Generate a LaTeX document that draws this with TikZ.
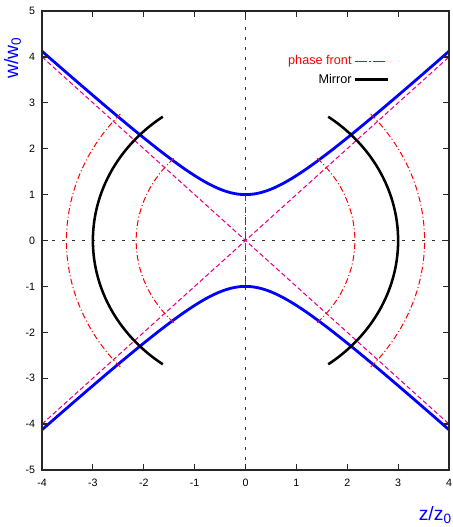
\documentclass[tikz,border=0pt]{standalone}
\usepackage{fontspec}
\setmainfont{Liberation Sans}
\usepackage{tikz}

\begin{document}
\begin{tikzpicture}[x=38.156pt, y=34.425pt, font=\fontsize{8}{9}\selectfont,
  beam/.style={blue, line width=2.1pt},
  asym/.style={magenta, line width=0.8pt, dash pattern=on 3.5pt off 2pt},
  front/.style={red, line width=0.75pt, dash pattern=on 4.5pt off 1.9pt on 0.75pt off 1.9pt},
  frontkey/.style={front, dash pattern=on 9pt off 2pt on 0.9pt off 2pt},
  mirror/.style={black, line width=1.9pt},
  zeroline/.style={black!80, line width=0.75pt, dash pattern=on 2pt off 5.5pt},
  tick/.style={black!85, line width=0.9pt}]
  \useasboundingbox (-4.826,-6.242) rectangle (4.059,5.240);
  \draw[zeroline] (-4,0) -- (4,0); \draw[zeroline] (0,-5) -- (0,5);
  \draw[asym] (-4,-4) -- (4,4); \draw[asym] (-4,4) -- (4,-4);
  \draw[beam] plot[domain=-4:4, samples=81, smooth] (\x,{sqrt(1+\x*\x)});
  \draw[beam] plot[domain=-4:4, samples=81, smooth] (\x,{-sqrt(1+\x*\x)});
  \draw[front] (0,1) -- (0,-1);
  \foreach \s in {1,-1} {
    \draw[front] ({-0.38+2.53*cos(45)},{2.53*sin(45)*\s}) arc[start angle=45*\s, end angle=0, radius=2.53];
    \draw[front] ({0.38-2.53*cos(45)},{2.53*sin(45)*\s}) arc[start angle=180-45*\s, end angle=180, radius=2.53];
    \draw[front] ({-0.6+4.12*cos(42)},{4.12*sin(42)*\s}) arc[start angle=42*\s, end angle=0, radius=4.12];
    \draw[front] ({0.6-4.12*cos(42)},{4.12*sin(42)*\s}) arc[start angle=180-42*\s, end angle=180, radius=4.12];
  }
  \draw[mirror] ({-1/3+10/3*cos(54)},{10/3*sin(54)}) arc[start angle=54, end angle=-54, radius=10/3];
  \draw[mirror] ({1/3-10/3*cos(54)},{10/3*sin(54)}) arc[start angle=126, end angle=234, radius=10/3];
  \draw[black!85, line width=1.3pt] (-4,-5) rectangle (4,5);
  \foreach \x in {-4,...,4} {
    \draw[tick] (\x,-5) -- ++(0,4.5pt); \draw[tick] (\x,5) -- ++(0,-4.5pt);
    \node[below, inner sep=0, yshift=-6.5pt] (xt\x) at (\x,-5) {\x};
  }
  \foreach \y in {-5,...,5} {
    \draw[tick] (-4,\y) -- ++(4.5pt,0); \draw[tick] (4,\y) -- ++(-4.5pt,0);
    \node[left, inner sep=0, xshift=-5pt] (yt\y) at (-4,\y) {\y};
  }
  \node[red, anchor=east, inner sep=0, font=\fontsize{9.5}{11}\selectfont] (lfront) at (2.09,3.91) {phase front};
  \node[anchor=east, inner sep=0, font=\fontsize{9.5}{11}\selectfont] (lmirror) at (2.09,3.51) {Mirror};
  \coordinate (lfrontend) at (2.80,3.91); \coordinate (lmirrorend) at (2.80,3.51);
  \draw[frontkey] ([xshift=2.2pt]lfront.east) -- (lfrontend);
  \draw[mirror] ([xshift=2.2pt]lmirror.east) -- (lmirrorend);
  \node[blue, rotate=90, font=\fontsize{14.5}{16}\selectfont] (ylab) at (-4.58,3.98) {w/w\textsubscript{0}};
  \node[blue, font=\fontsize{14.5}{16}\selectfont] (xlab) at (3.73,-5.98) {z/z\textsubscript{0}};
\end{tikzpicture}
\end{document}
